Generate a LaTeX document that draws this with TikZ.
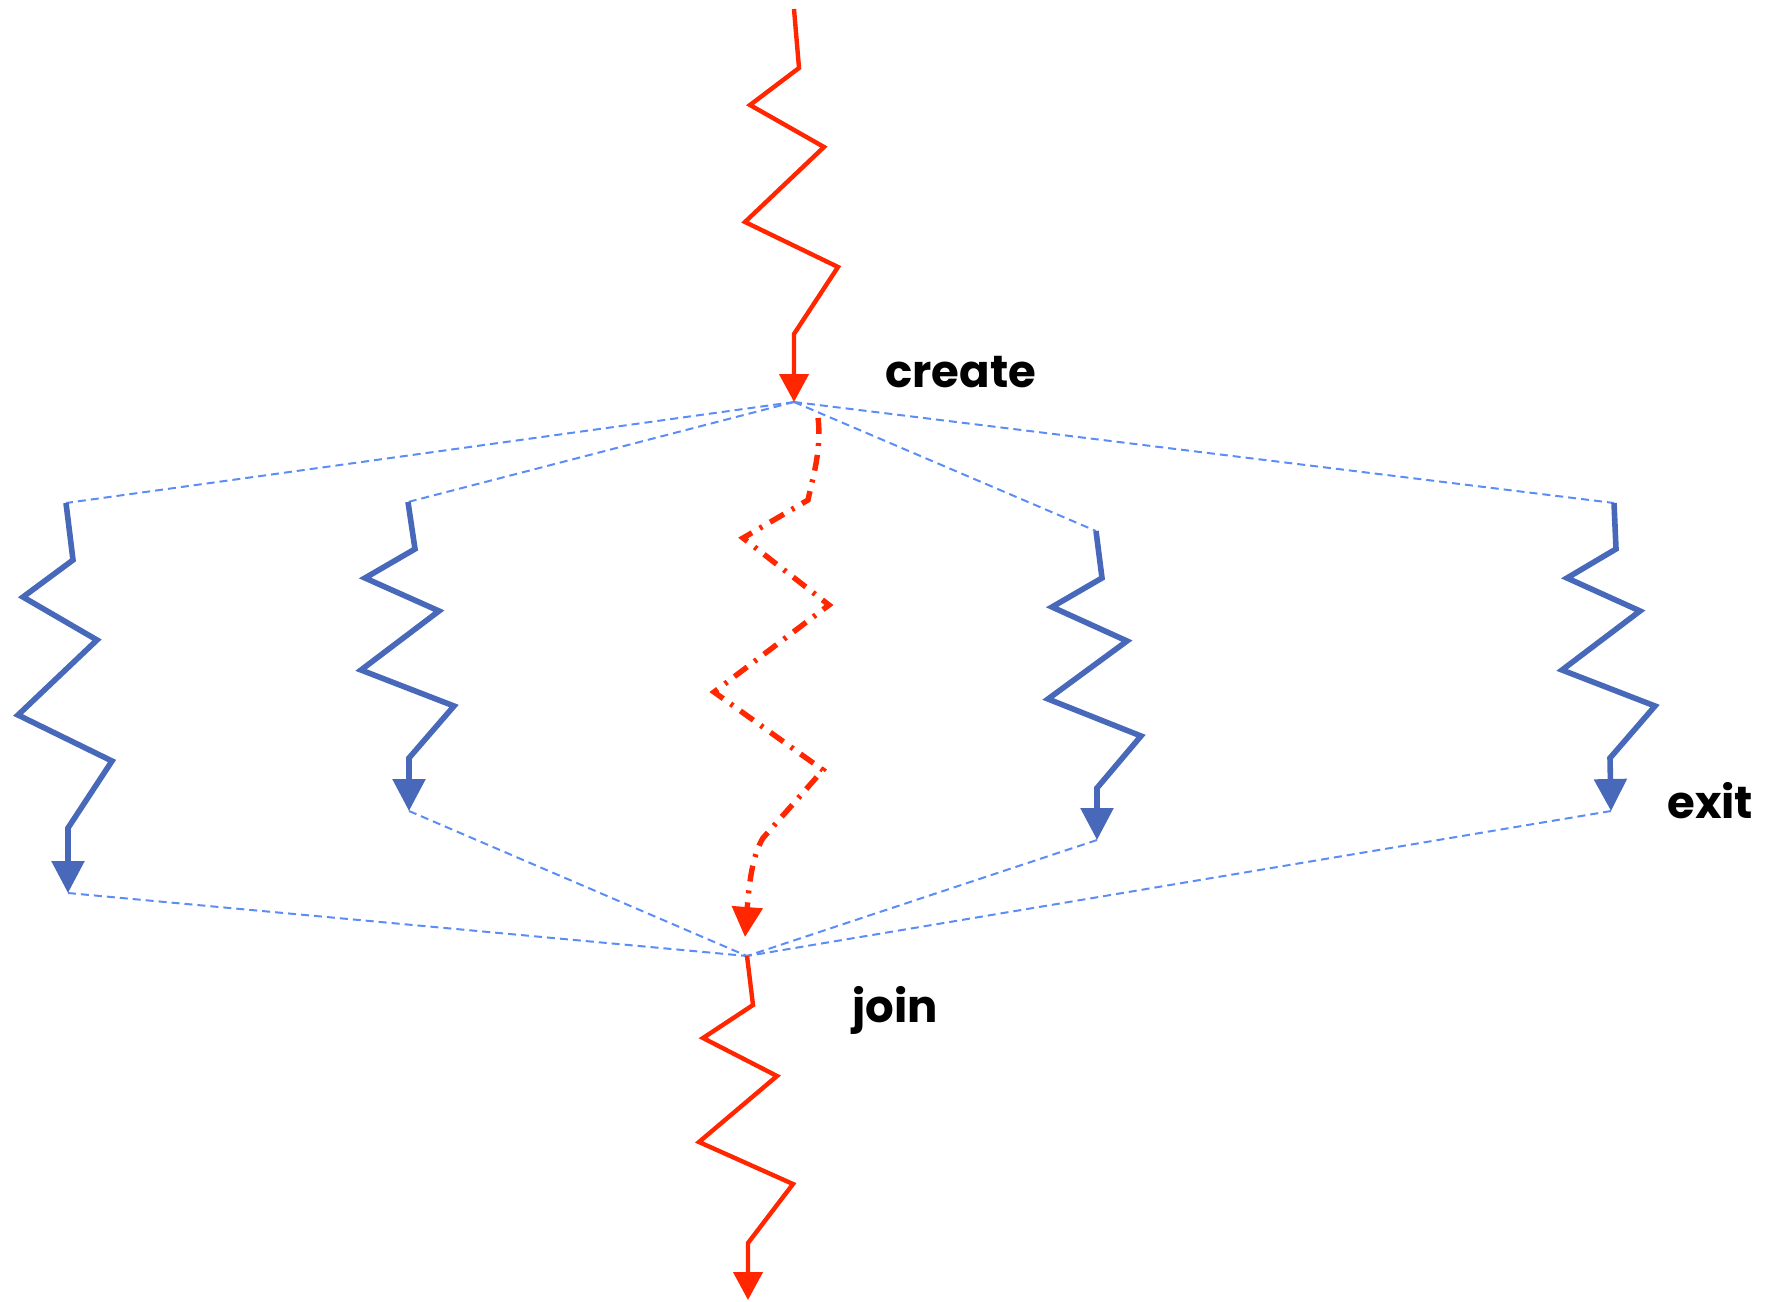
\documentclass[tikz,border=0pt]{standalone}
\usepackage{fontspec}
\setmainfont{Poppins}
\usetikzlibrary{arrows.meta}
\definecolor{mainred}{RGB}{255,38,0}
\definecolor{threadblue}{RGB}{72,104,185}
\definecolor{linkblue}{RGB}{92,140,245}
\tikzset{
  mainthread/.style={draw=mainred, line width=2.2pt,
    -{Triangle[width=14.5pt,length=14pt]}},
  childthread/.style={draw=threadblue, line width=2.8pt,
    -{Triangle[width=16pt,length=16pt]}},
  childmain/.style={draw=mainred, line width=2.7pt,
    dash pattern=on 8pt off 4.5pt on 1.5pt off 4.5pt,
    -{Triangle[width=15pt,length=15pt]}},
  link/.style={draw=linkblue, line width=1pt, dash pattern=on 4pt off 2.5pt},
  label/.style={anchor=base west, inner sep=0pt,
    font=\fontsize{22.5}{22.5}\selectfont\bfseries}
}
\begin{document}
\begin{tikzpicture}[x=0.5pt,y=-0.5pt]
  \useasboundingbox (0,0) rectangle (1771,1301);

  % fork and join points
  \coordinate (fork) at (794,402);
  \coordinate (join) at (747,956);

  % start and end of every child thread
  \coordinate (t1top) at (66,503);  \coordinate (t1end) at (68,893);
  \coordinate (t2top) at (408,502); \coordinate (t2end) at (409,811);
  \coordinate (t4top) at (1096,531);\coordinate (t4end) at (1097,840);
  \coordinate (t5top) at (1614,503);\coordinate (t5end) at (1611,811);
  \coordinate (t3top) at (818,418); \coordinate (t3end) at (745,937);
  \coordinate (maintop) at (794,9); \coordinate (mainend) at (748,1300);

  % links from create to the threads and from the threads to join
  \foreach \t in {t1top,t2top,t4top,t5top}
    \draw[link] (fork) -- (\t);
  \foreach \t in {t1end,t2end,t4end,t5end}
    \draw[link] (\t) -- (join);

  % main thread before the fork
  \draw[mainthread] (maintop) -- (799,68) -- (750,105) -- (824,147)
    -- (745,222) -- (838,267) -- (794,334) -- (fork);

  % main thread after the join
  \draw[mainthread] (join) -- (753,1005) -- (703,1038) -- (777,1076)
    -- (699,1142) -- (793,1184) -- (748,1243) -- (mainend);

  % child threads
  \draw[childthread] (t1top) -- (73,560) -- (23,597) -- (97,640)
    -- (18,715) -- (112,761) -- (68,828) -- (t1end);
  \draw[childthread] (t2top) -- (415,549) -- (365,578) -- (439,611)
    -- (361,670) -- (454,706) -- (409,758) -- (t2end);
  \draw[childthread] (t4top) -- (1102,578) -- (1052,607) -- (1127,641)
    -- (1048,699) -- (1141,736) -- (1097,788) -- (t4end);
  \draw[childthread] (t5top) -- (1616,549) -- (1567,578) -- (1640,611)
    -- (1562,670) -- (1655,706) -- (1610,758) -- (t5end);

  % the main thread's own share of the work
  \draw[childmain] (t3top) .. controls (822,450) and (812,480) .. (808,500)
    -- (743,538) -- (829,605) -- (714,692) -- (823,770) -- (763,838)
    .. controls (752,856) and (749,885) .. (t3end);

  % labels
  \node[label] (create) at (885,387) {create};
  \node[label] (join label) at (852,1022) {join};
  \node[label] (exit) at (1667,818) {exit};
\end{tikzpicture}
\end{document}
